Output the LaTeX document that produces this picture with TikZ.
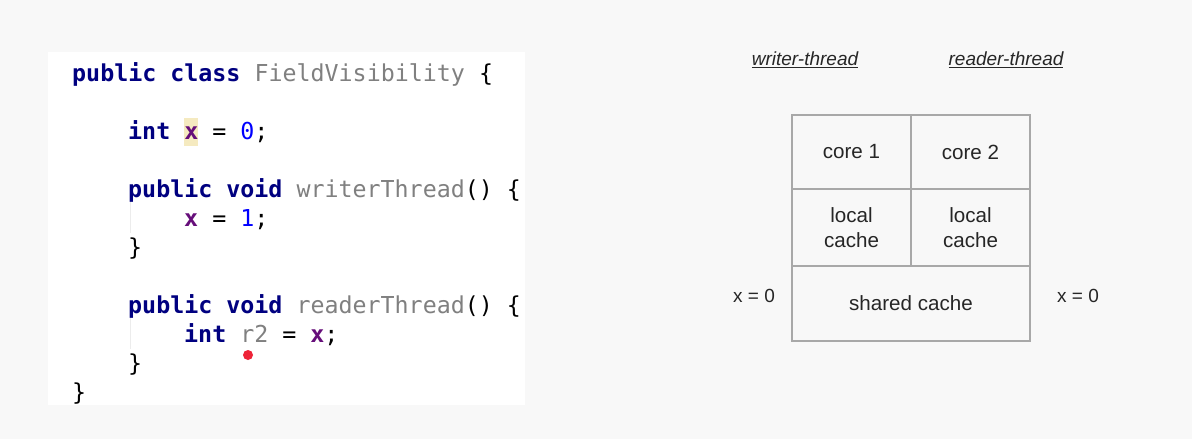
\documentclass[tikz,border=0pt]{standalone}
\usepackage{fontspec}
\setmainfont{Liberation Sans}
\setmonofont{DejaVu Sans Mono}
\definecolor{bgcol}{HTML}{F8F8F8}
\definecolor{kwcol}{HTML}{000080}
\definecolor{idcol}{HTML}{808080}
\definecolor{fieldcol}{HTML}{660E7A}
\definecolor{numcol}{HTML}{0000FF}
\definecolor{hlcol}{HTML}{F5EAC0}
\definecolor{gridcol}{HTML}{A8A8A8}
\definecolor{txtcol}{HTML}{262626}
\definecolor{dotcol}{HTML}{EE2438}
\newcommand{\kw}[1]{\textcolor{kwcol}{\bfseries #1}}
\newcommand{\fld}[1]{\textcolor{fieldcol}{\bfseries #1}}
\newcommand{\nm}[1]{\textcolor{idcol}{#1}}
\newcommand{\num}[1]{\textcolor{numcol}{#1}}
\tikzstyle{code}=[anchor=base west, inner sep=0pt, font=\ttfamily\fontsize{23.3}{29}\selectfont]
\tikzstyle{cell}=[draw=gridcol, line width=1.5pt, minimum width=119pt, align=center, inner sep=0pt, text=txtcol, font=\fontsize{20.6}{25}\selectfont]
\tikzstyle{label}=[inner sep=0pt, text=txtcol, font=\fontsize{19}{23}\selectfont]

\begin{document}
\begin{tikzpicture}[x=1pt, y=-1pt]
            \useasboundingbox[fill=bgcol] (0,0) rectangle (1192,439);
            % code panel
            \fill[white] (48,52) rectangle (525,405);
            \fill[hlcol] (183.5,118) rectangle (197.5,146);
            \draw[gray!15, line width=1pt] (130,200) -- (130,233);
            \draw[gray!15, line width=1pt] (130,314) -- (130,349);
            \node[code] (l1) at (72,81) {\kw{public class} \nm{FieldVisibility} \{};
            \node[code] (l2) at (128,139) {\kw{int} \fld{x} = \num{0};};
            \node[code] (l3) at (128,197) {\kw{public void} \nm{writerThread}() \{};
            \node[code] (l4) at (184,226) {\fld{x} = \num{1};};
            \node[code] (l5) at (128,255) {\}};
            \node[code] (l6) at (128,313) {\kw{public void} \nm{readerThread}() \{};
            \node[code] (l7) at (184,342) {\kw{int} \nm{r2} = \fld{x};};
            \node[code] (l8) at (128,371) {\}};
            \node[code] (l9) at (72,400) {\}};
            \fill[dotcol] (248,355) circle (5pt);
            % memory layout
            \node[cell, minimum height=74pt] (core1) at (851.5,152) {core 1};
            \node[cell, minimum height=74pt] (core2) at (970.5,152) {core 2};
            \node[cell, minimum height=77pt] (cache1) at (851.5,227.5) {local\\cache};
            \node[cell, minimum height=77pt] (cache2) at (970.5,227.5) {local\\cache};
            \node[cell, minimum width=238pt, minimum height=75pt] (shared) at (911,303.5) {shared cache};
            \node[label] (writer) at (805,60) {\underline{\itshape writer-thread}};
            \node[label] (reader) at (1006,60) {\underline{\itshape reader-thread}};
            \node[label] (xw) at (754,296) {x = 0};
            \node[label] (xr) at (1078,296) {x = 0};
        \end{tikzpicture}
\end{document}
